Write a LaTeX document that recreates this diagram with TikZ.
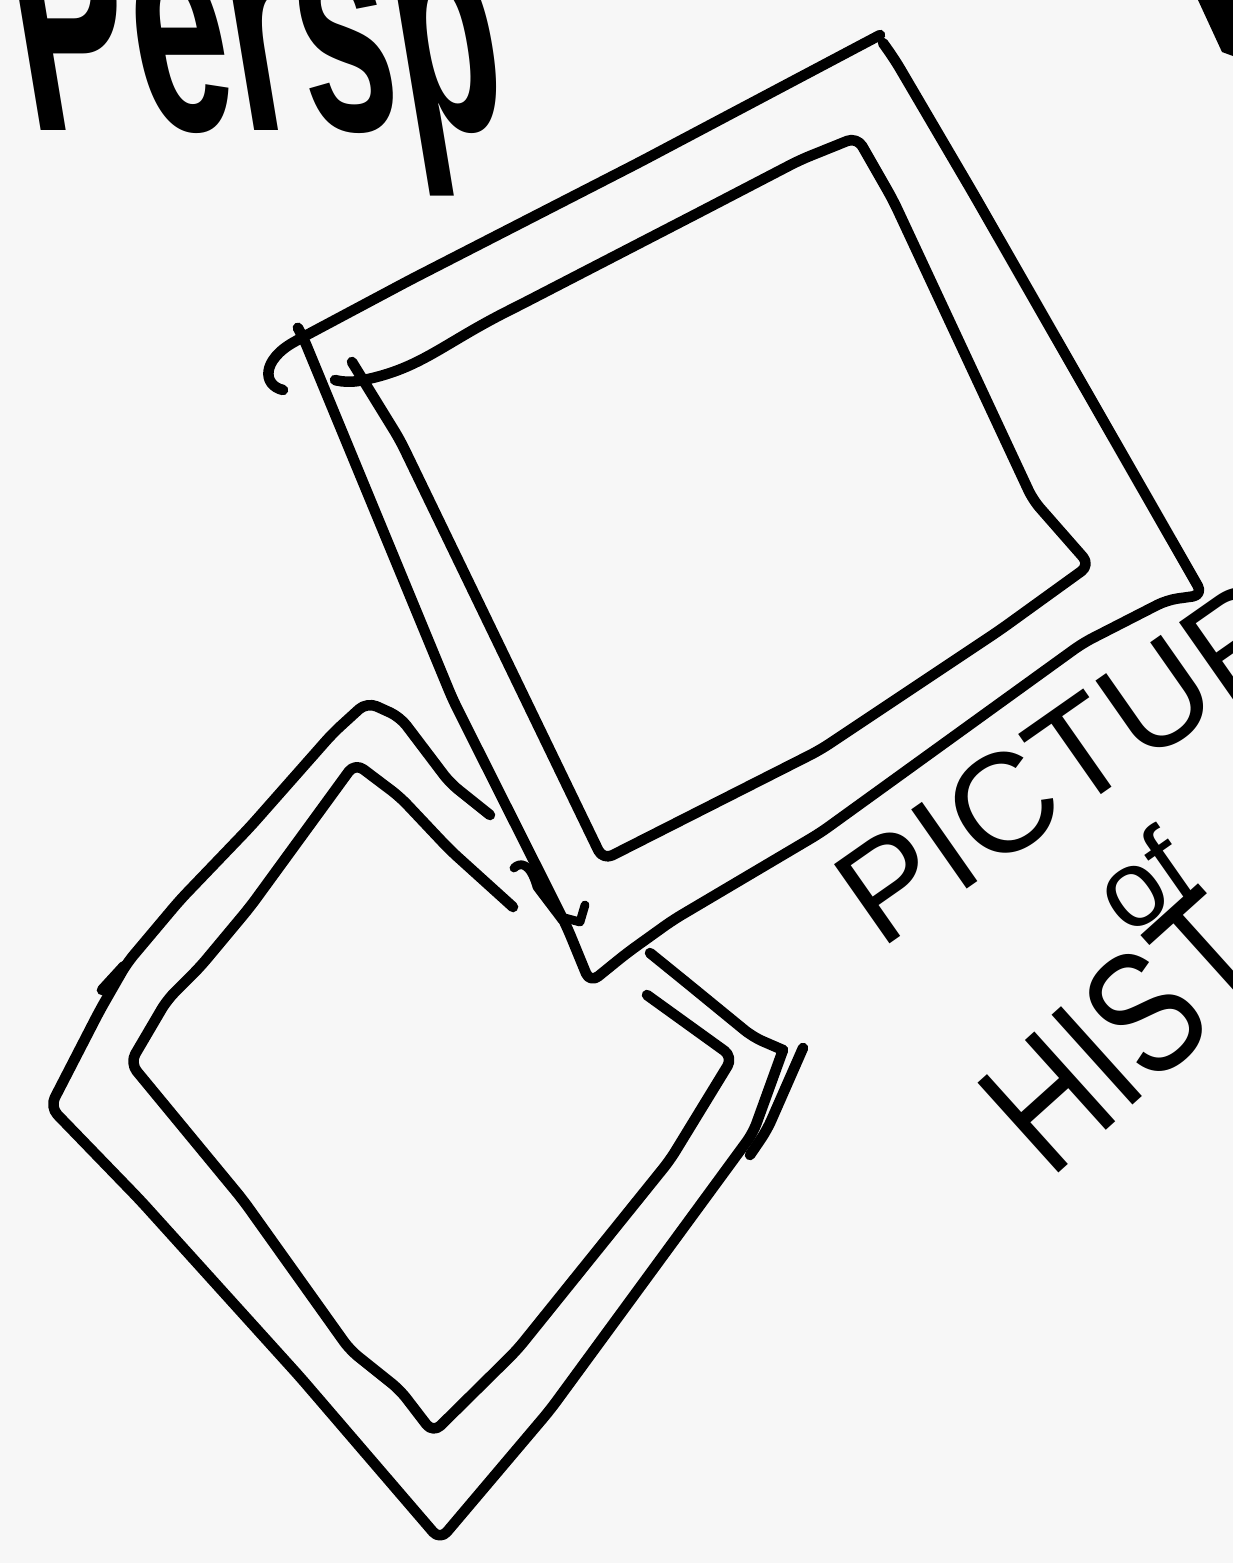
\documentclass[tikz,border=0pt]{standalone}
\usepackage{fontspec}
\setmainfont{Liberation Sans}
\begin{document}
\begin{tikzpicture}[x=0.02cm, y=-0.02cm, line cap=round, line join=round,
  pen/.style={line width=6pt, rounded corners=6pt},
  scrawl/.style={inner sep=0pt, outer sep=0pt}]
% Parameters
\def\paper{black!3}
% Page
\fill[\paper] (0,0) rectangle (1233,1563);
\useasboundingbox (0,0) rectangle (1233,1563);
\clip (0,0) rectangle (1233,1563);
% Corners of the big frame (outer, inner)
\coordinate (BTL) at (303,337);
\coordinate (BTR) at (880,35);
\coordinate (BBR) at (1203,595);
\coordinate (BBL) at (590,983);
\coordinate (bTL) at (352,362);
\coordinate (bTR) at (857,137);
\coordinate (bBR) at (1090,565);
\coordinate (bBL) at (603,860);
% Corners of the small frame (outer, inner)
\coordinate (STop) at (367,702);
\coordinate (SLeft) at (50,1107);
\coordinate (SBot) at (440,1540);
\coordinate (SRight) at (783,1050);
\coordinate (sTop) at (355,763);
\coordinate (sLeft) at (130,1063);
\coordinate (sBot) at (433,1433);
\coordinate (sRight) at (733,1057);
% Draw big frame, outer
\draw[pen] (283,390) .. controls (262,385) and (262,360) .. (BTL) -- (410,280) -- (640,162) -- (BTR);
\draw[pen] (298,328) -- (BTL) -- (453,700) -- (567,927) -- (BBL)
  -- (627,953) -- (673,920) -- (820,833) -- (1083,643) -- (1167,600) -- (BBR)
  -- (973,193) -- (895,60) -- (883,43);
% little hooks on its left edge
\draw[line width=5pt] (514,868) .. controls (520,862) and (530,862) .. (537,887) -- (562,920);
\draw[line width=5pt] (585,905) -- (580,922) -- (565,918);
% Draw big frame, inner
\draw[pen] (335,380) -- (347,383) .. controls (420,370) and (440,345) .. (520,305)
  -- (700,212) -- (800,160) -- (bTR) -- (893,200) -- (1033,500) -- (bBR)
  -- (1000,630) -- (820,750) -- (bBL) -- (400,440) -- (bTL);
% Draw small frame, outer
\draw[pen] (490,815) -- (450,783) -- (400,717) -- (STop) -- (333,733) -- (250,827)
  -- (180,900) -- (127,963) -- (100,1010) -- (SLeft) -- (140,1200) -- (300,1377)
  -- (SBot) -- (550,1410) -- (753,1133) -- (SRight);
\draw[pen] (650,953) -- (687,983) -- (753,1037) -- (SRight);
\draw[pen] (124,966) -- (102,990);
\draw[pen] (803,1048) -- (767,1130) -- (750,1155);
% Draw small frame, inner
\draw[pen] (513,907) -- (450,850) -- (400,797) -- (sTop) -- (250,907) -- (200,967)
  -- (167,1000) -- (sLeft) -- (243,1200) -- (350,1350) -- (400,1390) -- (sBot)
  -- (517,1350) -- (670,1160) -- (sRight) -- (647,995);
% Words (cut by the page edge)
\node[scrawl, anchor=base west, xscale=0.55, xslant=-0.3, font=\bfseries\fontsize{180}{180}\selectfont]
  (persp) at (30,130) {Persp};
\fill (1198,0) -- (1222,52) -- (1233,56) -- (1233,0) -- cycle;
\node[scrawl, anchor=base west, rotate=35, font=\fontsize{80}{80}\selectfont]
  (picture) at (880,950) {PICTUR};
\node[scrawl, rotate=35, font=\fontsize{62}{62}\selectfont]
  (of) at (1142,880) {of};
\node[scrawl, anchor=base west, rotate=42, xscale=0.78, font=\fontsize{100}{100}\selectfont]
  (history) at (1050,1180) {HIST};
\end{tikzpicture}
\end{document}
